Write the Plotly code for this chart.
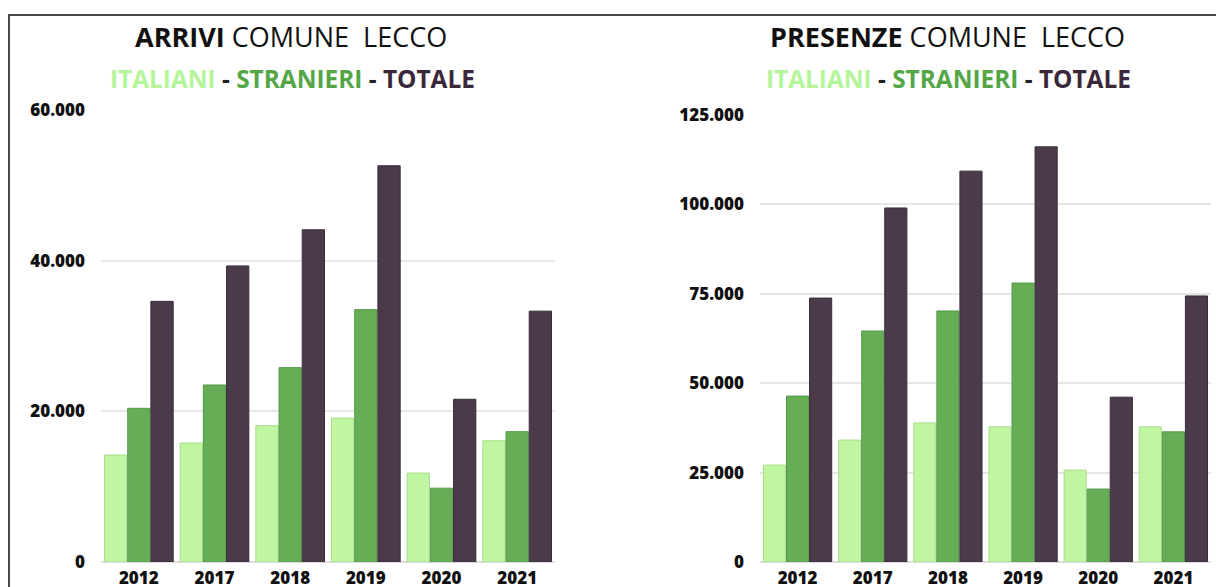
import plotly.graph_objects as go

W, H = 1216, 587

years = ["2012", "2017", "2018", "2019", "2020", "2021"]

arrivi_italiani = [14200, 15800, 18100, 19100, 11800, 16100]
arrivi_stranieri = [20400, 23500, 25800, 33500, 9800, 17300]
arrivi_totale = [34600, 39300, 44100, 52600, 21600, 33300]

presenze_italiani = [27100, 34100, 38900, 37800, 25700, 37800]
presenze_stranieri = [46400, 64600, 70200, 78000, 20400, 36400]
presenze_totale = [73800, 99000, 109300, 116100, 46100, 74400]

arrivi_ticks = [0, 20000, 40000, 60000]
presenze_ticks = [0, 25000, 50000, 75000, 100000, 125000]

C_ITA = "#c0f5a2"
C_STR = "#66ae56"
C_TOT = "#4a3a4a"
T_ITA = "#b4f59a"
T_STR = "#55a646"
T_TOT = "#3a2838"
FONT = "Open Sans"


def px(x):
    return x / W


def py(y):
    return 1 - y / H


fig = go.Figure()

series = [
    ("Italiani", C_ITA, "#a9dd8c", arrivi_italiani, presenze_italiani),
    ("Stranieri", C_STR, "#56984a", arrivi_stranieri, presenze_stranieri),
    ("Totale", C_TOT, "#3a2c3a", arrivi_totale, presenze_totale),
]
for name, color, edge, arr, pres in series:
    fig.add_trace(go.Bar(x=years, y=arr, name=name, marker=dict(color=color, line=dict(color=edge, width=1)),
                         xaxis="x", yaxis="y", showlegend=False))
    fig.add_trace(go.Bar(x=years, y=pres, name=name, marker=dict(color=color, line=dict(color=edge, width=1)),
                         xaxis="x2", yaxis="y2", showlegend=False))

tickfont = dict(family=FONT, size=17, color="#111111", weight=800)
common_x = dict(showgrid=False, showline=False, zeroline=False, ticks="", tickfont=tickfont,
                ticklabelstandoff=4, automargin=False, fixedrange=True)
common_y = dict(showgrid=True, gridcolor="#e6e6e6", gridwidth=2, zeroline=True, zerolinecolor="#dddddd",
                zerolinewidth=2, showline=False, ticks="", tickfont=tickfont, tickformat=",d",
                ticklabelstandoff=15, automargin=False, fixedrange=True)

fig.update_layout(
    template="plotly_white",
    width=W, height=H,
    margin=dict(l=0, r=0, t=0, b=0, autoexpand=False),
    paper_bgcolor="white", plot_bgcolor="white",
    separators=",.",
    barmode="group", bargap=0.08, bargroupgap=0.04,
    xaxis=dict(domain=[px(101), px(555)], anchor="y", **common_x),
    yaxis=dict(domain=[py(562), py(110)], range=[0, 60000], tickvals=arrivi_ticks, anchor="x", **common_y),
    xaxis2=dict(domain=[px(760), px(1211)], anchor="y2", **common_x),
    yaxis2=dict(domain=[py(562), py(115)], range=[0, 125000], tickvals=presenze_ticks, anchor="x2", **common_y),
)

# Frame around the panels
fig.add_shape(type="line", xref="paper", yref="paper", x0=px(8), x1=1.0, y0=py(15), y1=py(15),
              line=dict(color="#4a4a4a", width=2))
fig.add_shape(type="line", xref="paper", yref="paper", x0=px(9), x1=px(9), y0=py(14), y1=0,
              line=dict(color="#4a4a4a", width=2))

titles = [
    (291, "<b>ARRIVI</b> COMUNE  LECCO"),
    (947, "<b>PRESENZE</b> COMUNE  LECCO"),
]
for cx, text in titles:
    fig.add_annotation(x=px(cx), y=py(36), xref="paper", yref="paper", text=text, showarrow=False,
                       xanchor="center", yanchor="middle",
                       font=dict(family=FONT, size=27, color="#111111"))
    sub = (f"<span style='color:{T_ITA}'>ITALIANI</span> - "
           f"<span style='color:{T_STR}'>STRANIERI</span> - "
           f"<span style='color:{T_TOT}'>TOTALE</span>")
    fig.add_annotation(x=px(cx + 1), y=py(78), xref="paper", yref="paper", text=f"<b>{sub}</b>",
                       showarrow=False, xanchor="center", yanchor="middle",
                       font=dict(family=FONT, size=24.4, color="#222222"))

fig.write_html("out.html")
